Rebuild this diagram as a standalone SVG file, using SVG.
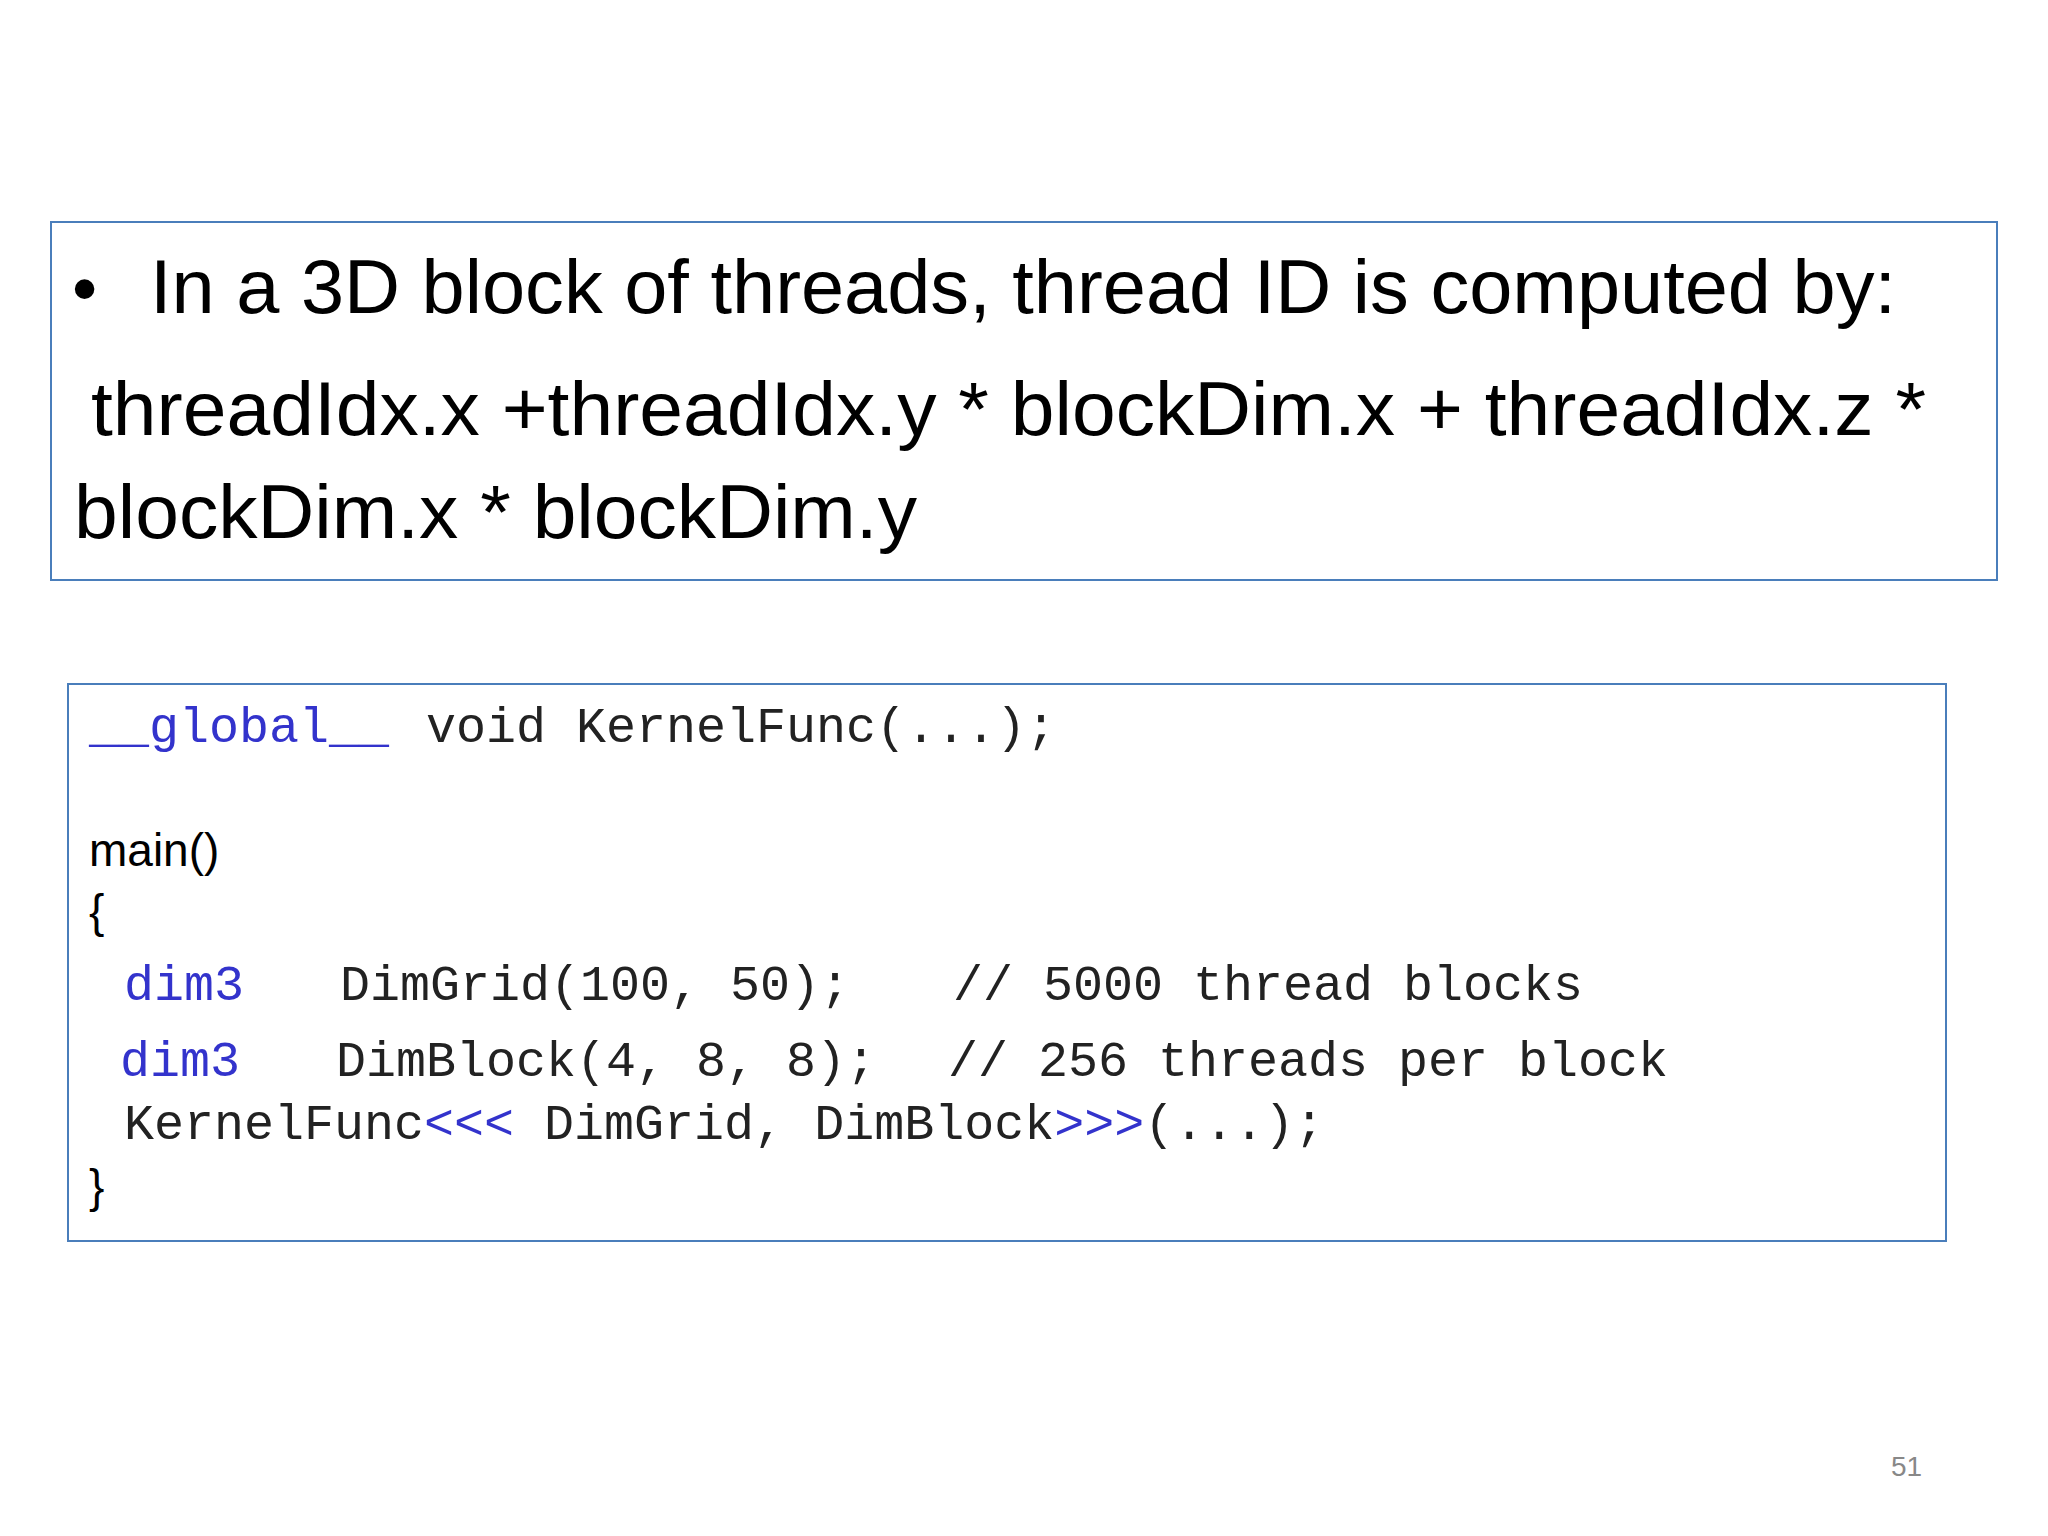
<svg xmlns="http://www.w3.org/2000/svg" width="2048" height="1536" viewBox="0 0 2048 1536">
<style>
.box{fill:#fff;stroke:#4a7ebb;stroke-width:2}
.t{font-family:"Liberation Sans","Open Sans",sans-serif;fill:#000}
.c{font-family:"Liberation Mono",monospace;font-size:50px;fill:#222}
.k{fill:#3333cc}
</style>
<rect width="2048" height="1536" fill="#fff"/>
<g id="formula">
<rect class="box" x="51" y="222" width="1946" height="358"/>
<text class="t" x="72" y="313" font-size="72">•</text>
<text class="t" x="150" y="313" font-size="76" textLength="1746" lengthAdjust="spacingAndGlyphs">In a 3D block of threads, thread ID is computed by:</text>
<text class="t" x="91" y="435" font-size="76" textLength="1835" lengthAdjust="spacingAndGlyphs">threadIdx.x +threadIdx.y * blockDim.x + threadIdx.z *</text>
<text class="t" x="74" y="538" font-size="76" textLength="843" lengthAdjust="spacingAndGlyphs">blockDim.x * blockDim.y</text>
</g>
<g id="code">
<rect class="box" x="68" y="684" width="1878" height="557"/>
<text class="c" x="89" y="742" xml:space="preserve"><tspan class="k">__global__</tspan></text>
<text class="c" x="426" y="742">void KernelFunc(...);</text>
<text class="t" x="89" y="866" font-size="46">main()</text>
<text class="t" x="89" y="927" font-size="46">{</text>
<text class="c k" x="124" y="1000">dim3</text>
<text class="c" x="340" y="1000">DimGrid(100, 50);</text>
<text class="c" x="953" y="1000">// 5000 thread blocks</text>
<text class="c k" x="120" y="1076">dim3</text>
<text class="c" x="336" y="1076">DimBlock(4, 8, 8);</text>
<text class="c" x="948" y="1076">// 256 threads per block</text>
<text class="c" x="124" y="1139" xml:space="preserve">KernelFunc<tspan class="k">&lt;&lt;&lt;</tspan> DimGrid, DimBlock<tspan class="k">&gt;&gt;&gt;</tspan>(...);</text>
<text class="t" x="89" y="1202" font-size="46">}</text>
</g>
<text class="t" x="1891" y="1476" font-size="28" fill="#888" style="fill:#888">51</text>
</svg>
